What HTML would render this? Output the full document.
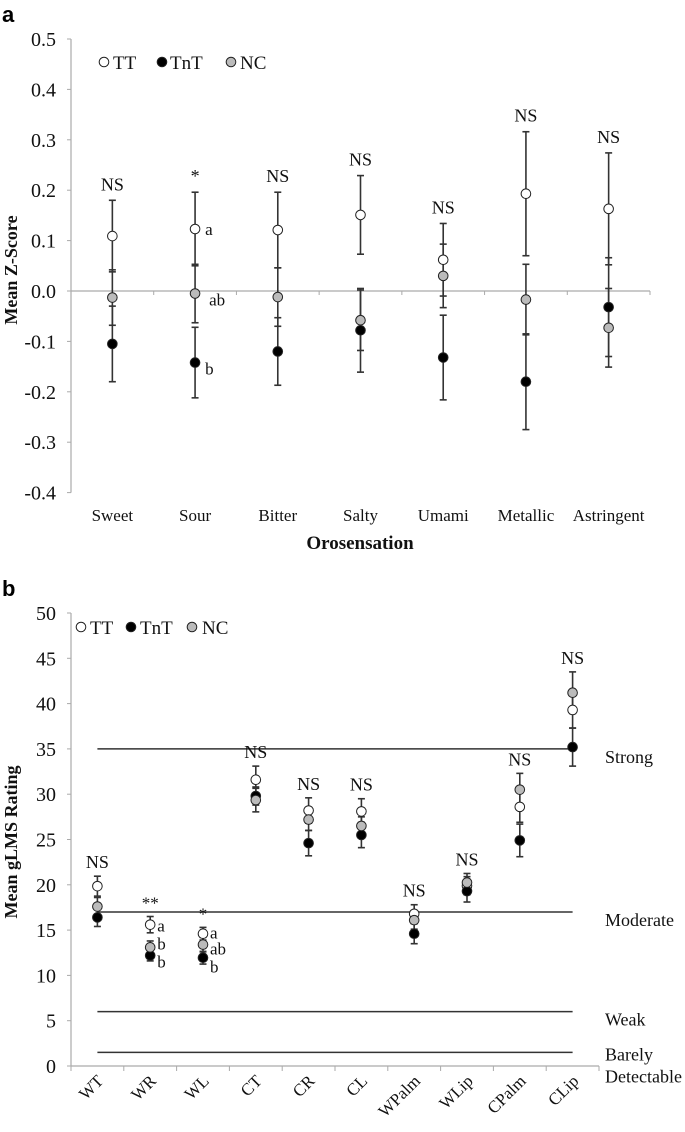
<!DOCTYPE html>
<html><head><meta charset="utf-8"><style>
body{margin:0;background:#fff}
svg{display:block;font-family:"Liberation Serif",serif}
.pl{font-family:"Liberation Sans",sans-serif;font-weight:bold;font-size:22px}
</style></head><body>
<svg id="s" width="685" height="1132" viewBox="0 0 685 1132" xmlns="http://www.w3.org/2000/svg">
<text class="pl" x="2" y="22">a</text>
<text class="pl" x="2" y="596">b</text>
</svg>
<script>
// Panel a data
const catsA=["Sweet","Sour","Bitter","Salty","Umami","Metallic","Astringent"];
const ttA=[0.109,0.123,0.121,0.151,0.062,0.193,0.163];
const ttErrA=[0.071,0.073,0.075,0.078,0.072,0.123,0.111];
const tntA=[-0.105,-0.142,-0.120,-0.078,-0.132,-0.180,-0.032];
const tntErrA=[0.075,0.070,0.067,0.083,0.084,0.095,0.098];
const ncA=[-0.013,-0.005,-0.012,-0.058,0.030,-0.017,-0.073];
const ncErrA=[0.055,0.058,0.058,0.060,0.063,0.070,0.078];
const sigA=["NS","*","NS","NS","NS","NS","NS"];
const ticksA=["0.5","0.4","0.3","0.2","0.1","0.0","-0.1","-0.2","-0.3","-0.4"];
// Panel b data
const catsB=["WT","WR","WL","CT","CR","CL","WPalm","WLip","CPalm","CLip"];
const ttB=[19.85,15.6,14.6,31.6,28.2,28.1,16.8,19.9,28.6,39.3];
const ttErrB=[1.1,0.9,0.7,1.5,1.4,1.4,1.0,1.0,1.7,2.0];
const tntB=[16.4,12.2,11.95,29.8,24.6,25.5,14.6,19.3,24.9,35.2];
const tntErrB=[1.0,0.6,0.7,1.0,1.4,1.4,1.1,1.2,1.8,2.1];
const ncB=[17.6,13.1,13.4,29.35,27.2,26.5,16.1,20.25,30.5,41.2];
const ncErrB=[1.0,0.7,0.8,1.3,1.2,1.0,1.0,1.0,1.8,2.3];
const sigB=["NS","**","*","NS","NS","NS","NS","NS","NS","NS"];
const ticksB=["50","45","40","35","30","25","20","15","10","5","0"];
const refVals=[35,17,6,1.5];
const refLabels=[["Strong"],["Moderate"],["Weak"],["Barely","Detectable"]];

const S=document.getElementById('s');const NS='http://www.w3.org/2000/svg';
function el(t,a,txt){const e=document.createElementNS(NS,t);for(const k in a)e.setAttribute(k,a[k]);if(txt!==undefined)e.textContent=txt;S.appendChild(e);return e;}

const ax0=71,ax1=650;
const yA=v=>291-v*504;
const xA=i=>ax0+(ax1-ax0)/catsA.length*(i+0.5);
const bx0=71,bx1=599;
const yB=v=>1066-v*9.06;
const xB=i=>bx0+(bx1-bx0)/catsB.length*(i+0.5);

function errbar(x,y1,y2,name){
  let e=el('line',{x1:x,x2:x,y1:y1,y2:y2,stroke:'#333','stroke-width':1.6});
  
  for(const y of [y1,y2]){let c=el('line',{x1:x-3.5,x2:x+3.5,y1:y,y2:y,stroke:'#333','stroke-width':1.6});
  }
}
function marker(x,y,fill,name){
  let c=el('circle',{cx:x,cy:y,r:4.8,fill:fill,stroke:'#222','stroke-width':1});
  
}
function txt(x,y,s,size,anchor,name,extra){
  const a={x:x,y:y,'font-size':size,'text-anchor':anchor||'start',fill:'#111'};
  if(extra)Object.assign(a,extra);
  let t=el('text',a,s);return t;
}
const fills={tt:'#fff',tnt:'#000',nc:'#bbb'};

// ---- Panel A
let l=el('line',{x1:ax0,x2:ax0,y1:yA(0.5),y2:yA(-0.4),stroke:'#aaa','stroke-width':1.2});

ticksA.forEach((t,i)=>{const v=parseFloat(t);const y=yA(v);
  let tk=el('line',{x1:ax0-4,x2:ax0,y1:y,y2:y,stroke:'#aaa'});
  txt(56,y+7,t,20,'end','y-tick-label-a');});
l=el('line',{x1:ax0,x2:ax1,y1:yA(0),y2:yA(0),stroke:'#aaa','stroke-width':1.2});

for(let i=0;i<=catsA.length;i++){const x=ax0+(ax1-ax0)/catsA.length*i;
  let tk=el('line',{x1:x,x2:x,y1:yA(0),y2:yA(0)+4,stroke:'#aaa'});}
catsA.forEach((c,i)=>txt(xA(i),521,c,17,'middle','x-label-'+c.toLowerCase()));
txt(360,549,'Orosensation',19,'middle','x-axis-title-a',{'font-weight':'bold'});
txt(0,0,'Mean Z-Score',18,'middle','y-axis-title-a',{'font-weight':'bold',transform:'translate(17,270) rotate(-90)'});
catsA.forEach((c,i)=>{const x=xA(i);
  errbar(x,yA(ttA[i]+ttErrA[i]),yA(ttA[i]-ttErrA[i]),'tt-errorbar-a');
  errbar(x,yA(ncA[i]+ncErrA[i]),yA(ncA[i]-ncErrA[i]),'nc-errorbar-a');
  errbar(x,yA(tntA[i]+tntErrA[i]),yA(tntA[i]-tntErrA[i]),'tnt-errorbar-a');
  marker(x,yA(ttA[i]),fills.tt,'tt-point-a');
  marker(x,yA(tntA[i]),fills.tnt,'tnt-point-a');
  marker(x,yA(ncA[i]),fills.nc,'nc-point-a');
  txt(x,yA(ttA[i]+ttErrA[i])-10,sigA[i],18,'middle','significance-a');
});
txt(xA(1)+10,yA(ttA[1])+6,'a',17,'start','letter-a');
txt(xA(1)+14,yA(ncA[1])+12,'ab',17,'start','letter-a');
txt(xA(1)+10,yA(tntA[1])+12,'b',17,'start','letter-a');
marker(104,62,fills.tt,'legend-tt-marker-a');txt(113,69,'TT',19,'start','legend-tt-a');
marker(162,62,fills.tnt,'legend-tnt-marker-a');txt(170,69,'TnT',19,'start','legend-tnt-a');
marker(231,62,fills.nc,'legend-nc-marker-a');txt(240,69,'NC',19,'start','legend-nc-a');

// ---- Panel B
l=el('line',{x1:bx0,x2:bx0,y1:yB(50),y2:yB(0),stroke:'#aaa','stroke-width':1.2});

ticksB.forEach(t=>{const y=yB(parseFloat(t));
  let tk=el('line',{x1:bx0-4,x2:bx0,y1:y,y2:y,stroke:'#aaa'});
  txt(56,y+7,t,20,'end','y-tick-label-b');});
l=el('line',{x1:bx0,x2:bx1,y1:yB(0),y2:yB(0),stroke:'#aaa','stroke-width':1.2});

for(let i=0;i<=catsB.length;i++){const x=bx0+(bx1-bx0)/catsB.length*i;
  let tk=el('line',{x1:x,x2:x,y1:yB(0),y2:yB(0)+5,stroke:'#aaa'});}
catsB.forEach((c,i)=>{const x=xB(i)+7,y=1082;
  txt(0,0,c,17,'end','x-label-'+c.toLowerCase(),{transform:`translate(${x},${y}) rotate(-45)`});});
txt(0,0,'Mean gLMS Rating',18,'middle','y-axis-title-b',{'font-weight':'bold',transform:'translate(17,842) rotate(-90)'});
refVals.forEach((v,i)=>{const y=yB(v);
  let r=el('line',{x1:xB(0),x2:xB(catsB.length-1),y1:y,y2:y,stroke:'#333','stroke-width':1.5});
  
  refLabels[i].forEach((s,j)=>txt(605,y+14+j*22-(refLabels[i].length>1?6:0),s,18,'start','reference-label'));
});
catsB.forEach((c,i)=>{const x=xB(i);
  errbar(x,yB(ttB[i]+ttErrB[i]),yB(ttB[i]-ttErrB[i]),'tt-errorbar-b');
  errbar(x,yB(ncB[i]+ncErrB[i]),yB(ncB[i]-ncErrB[i]),'nc-errorbar-b');
  errbar(x,yB(tntB[i]+tntErrB[i]),yB(tntB[i]-tntErrB[i]),'tnt-errorbar-b');
  marker(x,yB(ttB[i]),fills.tt,'tt-point-b');
  marker(x,yB(tntB[i]),fills.tnt,'tnt-point-b');
  marker(x,yB(ncB[i]),fills.nc,'nc-point-b');
  const top=Math.max(ttB[i]+ttErrB[i],ncB[i]+ncErrB[i],tntB[i]+tntErrB[i]);
  txt(x,yB(top)-8,sigB[i],sigB[i]=='NS'?18:17,'middle','significance-b');
});
[[1,ttB,'a',7],[1,ncB,'b',2],[1,tntB,'b',12],[2,ttB,'a',5],[2,ncB,'ab',10],[2,tntB,'b',15]].forEach(([i,arr,s,dy])=>{
  txt(xB(i)+7,yB(arr[i])+dy,s,17,'start','letter-b');});
marker(81,627,fills.tt,'legend-tt-marker-b');txt(90,634,'TT',19,'start','legend-tt-b');
marker(131,627,fills.tnt,'legend-tnt-marker-b');txt(140,634,'TnT',19,'start','legend-tnt-b');
marker(192,627,fills.nc,'legend-nc-marker-b');txt(202,634,'NC',19,'start','legend-nc-b');
</script>
</body></html>
